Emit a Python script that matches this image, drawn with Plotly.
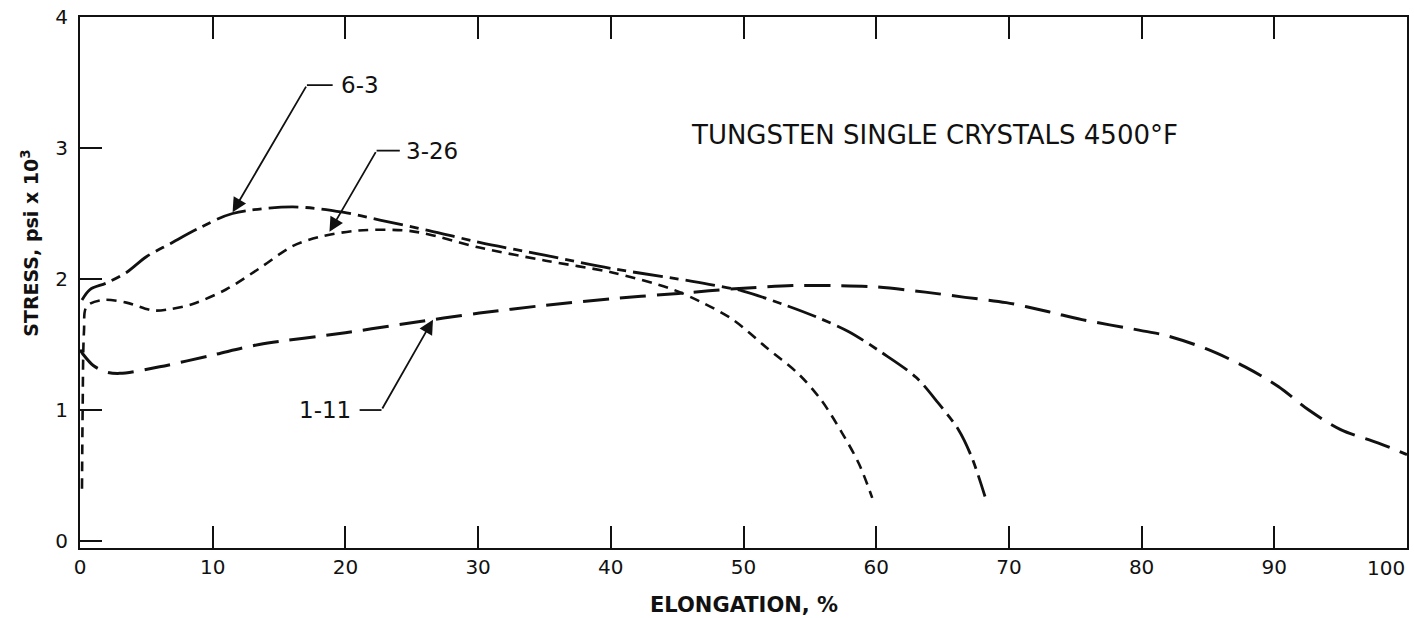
import plotly.graph_objects as go

# ---- data ----
x_1_11 = [0.0, 0.2, 1.0, 2.0, 3.0, 6.0, 10.0, 13.5, 20.0, 24.6, 30.1, 35.1, 40.1, 45.1, 47.4,
          50.0, 53.7, 56.7, 60.0, 63.7, 66.7, 69.8, 73.0, 75.5, 79.8, 81.8, 84.8, 87.8, 90.3,
          92.6, 95.0, 97.8, 100.0]
y_1_11 = [1.46, 1.43, 1.34, 1.29, 1.28, 1.33, 1.42, 1.50, 1.59, 1.66, 1.74, 1.80, 1.85, 1.89, 1.91,
          1.93, 1.95, 1.95, 1.94, 1.90, 1.86, 1.82, 1.75, 1.69, 1.61, 1.57, 1.47, 1.33, 1.18,
          1.00, 0.85, 0.75, 0.66]

x_3_26 = [0.15, 0.2, 0.3, 0.5, 1.7, 3.5, 5.5, 6.8, 8.5, 11.0, 13.5, 16.0, 18.0, 21.0, 24.6,
          26.3, 30.1, 35.1, 40.1, 44.4, 46.7, 49.2, 51.7, 54.2, 55.9, 57.4, 58.7, 59.7]
y_3_26 = [0.40, 1.00, 1.60, 1.79, 1.84, 1.82, 1.76, 1.77, 1.81, 1.92, 2.08, 2.25, 2.32, 2.37, 2.37,
          2.34, 2.24, 2.14, 2.05, 1.93, 1.83, 1.69, 1.48, 1.27, 1.07, 0.83, 0.59, 0.33]

x_6_3 = [0.15, 0.75, 2.0, 3.5, 5.0, 6.8, 9.0, 11.5, 16.0, 19.8, 22.6, 26.3, 30.1, 35.1, 40.1,
         45.1, 47.4, 49.9, 52.9, 55.5, 57.9, 60.4, 63.0, 64.7, 66.2, 67.2, 68.2]
y_6_3 = [1.84, 1.92, 1.97, 2.05, 2.17, 2.27, 2.39, 2.50, 2.55, 2.51, 2.45, 2.37, 2.28, 2.18, 2.08,
         2.00, 1.96, 1.91, 1.81, 1.71, 1.60, 1.44, 1.25, 1.05, 0.85, 0.64, 0.34]

x_ticks = [0, 10, 20, 30, 40, 50, 60, 70, 80, 90, 100]
y_ticks = [0, 1, 2, 3, 4]

labels = ["6-3", "3-26", "1-11"]
label_tips_x = [11.5, 18.8, 26.6]
label_tips_y = [2.51, 2.36, 1.69]
label_bend_x = [17.1, 22.35, 22.72]
label_bend_y = [3.48, 2.98, 1.00]
label_end_x = [19.04, 24.1, 21.07]
label_text_x = [19.5, 24.45, 20.6]
label_anchor = ["left", "left", "right"]

title_text = "TUNGSTEN SINGLE CRYSTALS 4500°F"

FONT = "DejaVu Sans"
BLACK = "#111111"

fig = go.Figure()
fig.add_trace(go.Scatter(x=x_1_11, y=y_1_11, mode="lines", name="1-11",
                         line=dict(color=BLACK, width=3, dash="26px,11px", shape="spline", smoothing=0.9)))
fig.add_trace(go.Scatter(x=x_3_26, y=y_3_26, mode="lines", name="3-26",
                         line=dict(color=BLACK, width=2.6, dash="10px,7px", shape="spline", smoothing=0.9)))
fig.add_trace(go.Scatter(x=x_6_3, y=y_6_3, mode="lines", name="6-3",
                         line=dict(color=BLACK, width=2.8, dash="30px,7px,9px,7px", shape="spline", smoothing=0.9)))

for i, lab in enumerate(labels):
    # leader: horizontal segment
    fig.add_shape(type="line", xref="x", yref="y",
                  x0=label_bend_x[i], y0=label_bend_y[i], x1=label_end_x[i], y1=label_bend_y[i],
                  line=dict(color=BLACK, width=1.8))
    # arrow from bend to curve
    fig.add_annotation(x=label_tips_x[i], y=label_tips_y[i], xref="x", yref="y",
                       ax=label_bend_x[i], ay=label_bend_y[i], axref="x", ayref="y",
                       text="", showarrow=True, arrowhead=2, arrowsize=1.6, arrowwidth=1.8,
                       arrowcolor=BLACK, standoff=0, startstandoff=0)
    fig.add_annotation(x=label_text_x[i], y=label_bend_y[i], xref="x", yref="y",
                       text=lab, showarrow=False, xanchor=label_anchor[i], yanchor="middle",
                       font=dict(family=FONT, size=23, color=BLACK))

fig.add_annotation(x=45.9, y=3.10, xref="x", yref="y", text=title_text, showarrow=False,
                   xanchor="left", yanchor="middle", font=dict(family=FONT, size=26, color=BLACK))

# axis titles
fig.add_annotation(x=(30 - 80) / 1329, y=2.27, xref="paper", yref="y",
                   text="<b>STRESS, psi x 10<sup>3</sup></b>", showarrow=False, textangle=-90,
                   xanchor="center", yanchor="middle", font=dict(family=FONT, size=19, color=BLACK))
fig.add_annotation(x=0.5, y=-(605 - 548) / 531, xref="paper", yref="paper",
                   text="<b>ELONGATION, %</b>", showarrow=False,
                   xanchor="center", yanchor="middle", font=dict(family=FONT, size=21, color=BLACK))

# last x tick label sits flush against the right edge
x_ticktext = [str(v) for v in x_ticks]
x_ticktext[-1] = ""
fig.add_annotation(x=x_ticks[-1], y=-(568 - 548) / 531, xref="x", yref="paper",
                   text=str(x_ticks[-1]), showarrow=False, xanchor="right", yanchor="middle",
                   font=dict(family=FONT, size=20, color=BLACK))

fig.update_layout(
    width=1414, height=618,
    margin=dict(l=80, r=5, t=17, b=70),
    paper_bgcolor="white", plot_bgcolor="white",
    showlegend=False,
)
fig.update_xaxes(range=[0, 100], tickvals=x_ticks, ticktext=x_ticktext,
                 ticks="inside", ticklen=22, tickwidth=1.8, tickcolor=BLACK,
                 showline=True, linecolor=BLACK, linewidth=2, mirror="ticks",
                 showgrid=False, zeroline=False,
                 tickfont=dict(family=FONT, size=20, color=BLACK))
fig.update_yaxes(range=[-0.053, 4.0], tickvals=y_ticks, ticktext=[str(v) for v in y_ticks],
                 ticks="inside", ticklen=22, tickwidth=1.8, tickcolor=BLACK,
                 showline=True, linecolor=BLACK, linewidth=2, mirror=True,
                 showgrid=False, zeroline=False, ticklabelstandoff=6,
                 tickfont=dict(family=FONT, size=20, color=BLACK))

fig.write_html("out.html", config={"displayModeBar": False})

# remove the default page margin so the figure sits at the window's top-left corner
with open("out.html", "r", encoding="utf-8") as f:
    html = f.read()
html = html.replace("<head>", "<head><style>html,body{margin:0;padding:0;overflow:hidden;}</style>", 1)
with open("out.html", "w", encoding="utf-8") as f:
    f.write(html)
